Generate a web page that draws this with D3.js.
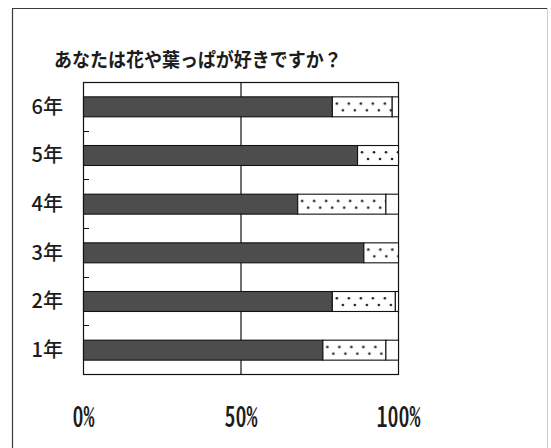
<!DOCTYPE html>
<html>
<head>
<meta charset="utf-8">
<script src="https://cdn.jsdelivr.net/npm/d3@7"></script>
<style>
  html, body { margin: 0; padding: 0; background: #fff; }
  svg { display: block; }
  text { font-family: "Noto Sans CJK JP", "Noto Sans CJK SC", sans-serif; fill: #1c1c1c; }
</style>
</head>
<body>
<svg id="chart" width="551" height="448"></svg>
<script>
// Survey: "Do you like flowers and leaves?" — answer shares (%) per grade
const title = "あなたは花や葉っぱが好きですか？";
const grades = ["6年", "5年", "4年", "3年", "2年", "1年"];
const likeValues = [79, 87, 68, 89, 79, 76];        // solid dark segment
const somewhatValues = [19, 13, 28, 11, 20, 20];    // dotted segment
const dislikeValues = [2, 0, 4, 0, 1, 4];           // white segment
const percentTicks = [0, 50, 100];

const seriesKeys = ["like", "somewhat", "dislike"];
const rows = grades.map((g, i) => ({
  grade: g,
  like: likeValues[i],
  somewhat: somewhatValues[i],
  dislike: dislikeValues[i]
}));
const stacked = d3.stack().keys(seriesKeys)(rows);

const svg = d3.select("#chart");
const plot = { left: 83, right: 398, top: 82, bottom: 374 };

const x = d3.scaleLinear().domain([0, 100]).range([plot.left, plot.right]);
const y = d3.scaleBand().domain(grades)
  .range([plot.top, plot.bottom])
  .paddingInner(0.59)
  .paddingOuter(0.295);

// outer chart frame
svg.append("path")
  .attr("d", "M12.5,470V8.5H548")
  .attr("fill", "none").attr("stroke", "#3a3a3a").attr("stroke-width", 1.2);
svg.append("line")
  .attr("x1", 547.5).attr("x2", 547.5).attr("y1", 8).attr("y2", 470)
  .attr("stroke", "#cfcfcf").attr("stroke-width", 1);

// title
svg.append("text")
  .attr("transform", "translate(54,67) scale(1,1.1)")
  .attr("font-size", 18)
  .attr("font-weight", 700)
  .text(title);

// plot area
svg.append("rect")
  .attr("x", plot.left + 0.5).attr("y", plot.top + 0.5)
  .attr("width", plot.right - plot.left).attr("height", plot.bottom - plot.top)
  .attr("fill", "#fff").attr("stroke", "#111").attr("stroke-width", 1.2);

// 50% reference line
svg.append("line")
  .attr("x1", x(50) + 0.5).attr("x2", x(50) + 0.5)
  .attr("y1", plot.top).attr("y2", plot.bottom)
  .attr("stroke", "#111").attr("stroke-width", 1.2);

// category boundary ticks (inside the left edge)
svg.append("g").selectAll("line")
  .data(grades.slice(1))
  .join("line")
  .attr("x1", plot.left).attr("x2", plot.left + 6)
  .attr("y1", d => Math.round(y(d) - y.step() * y.paddingInner() / 2) + 0.5)
  .attr("y2", d => Math.round(y(d) - y.step() * y.paddingInner() / 2) + 0.5)
  .attr("stroke", "#111").attr("stroke-width", 1);

// dot pattern per bar so dot rows sit inside each bar
const defs = svg.append("defs");
grades.forEach((g, i) => {
  const bh = y.bandwidth();
  const p = defs.append("pattern")
    .attr("id", "dots" + i)
    .attr("patternUnits", "userSpaceOnUse")
    .attr("x", x(likeValues[i]) + 1)
    .attr("y", y(g))
    .attr("width", 12)
    .attr("height", bh);
  p.append("rect").attr("width", 12).attr("height", bh).attr("fill", "#fff");
  p.append("circle").attr("cx", 4).attr("cy", bh * 0.36).attr("r", 1.3).attr("fill", "#222");
  p.append("circle").attr("cx", 10).attr("cy", bh * 0.7).attr("r", 1.3).attr("fill", "#222");
});

const fills = {
  like: () => "#4d4d4d",
  somewhat: (d, i) => `url(#dots${i})`,
  dislike: () => "#fff"
};

svg.append("g").selectAll("g")
  .data(stacked)
  .join("g")
  .each(function (layer) {
    d3.select(this).selectAll("rect")
      .data(layer.filter(d => d[1] - d[0] > 0).map(d => ({ d, i: grades.indexOf(d.data.grade) })))
      .join("rect")
      .attr("x", o => x(o.d[0]) + 0.5)
      .attr("y", o => y(o.d.data.grade) + 0.5)
      .attr("width", o => x(o.d[1]) - x(o.d[0]))
      .attr("height", y.bandwidth())
      .attr("fill", o => fills[layer.key](o.d, o.i))
      .attr("stroke", "#111")
      .attr("stroke-width", 1.1);
  });

// grade labels
const yAxis = svg.append("g")
  .attr("transform", `translate(${plot.left},1)`)
  .call(d3.axisLeft(y).tickSize(0).tickPadding(20));
yAxis.select(".domain").remove();
yAxis.selectAll("text")
  .attr("font-size", 20)
  .attr("font-weight", 500)
  .style("font-family", '"Noto Sans CJK JP", sans-serif')
  .attr("fill", "#1c1c1c");

// percent labels
const xAxis = svg.append("g")
  .attr("transform", "translate(0,427)")
  .call(d3.axisBottom(x).tickValues(percentTicks).tickFormat(d => d + "%").tickSize(0));
xAxis.select(".domain").remove();
xAxis.selectAll("text")
  .attr("y", 0).attr("dy", 0)
  .attr("transform", "scale(1,1.3)")
  .attr("font-size", 22)
  .attr("font-weight", 500)
  .style("font-family", '"Noto Sans CJK JP", sans-serif')
  .style("font-feature-settings", '"hwid"')
  .attr("fill", "#1c1c1c");
</script>
</body>
</html>
